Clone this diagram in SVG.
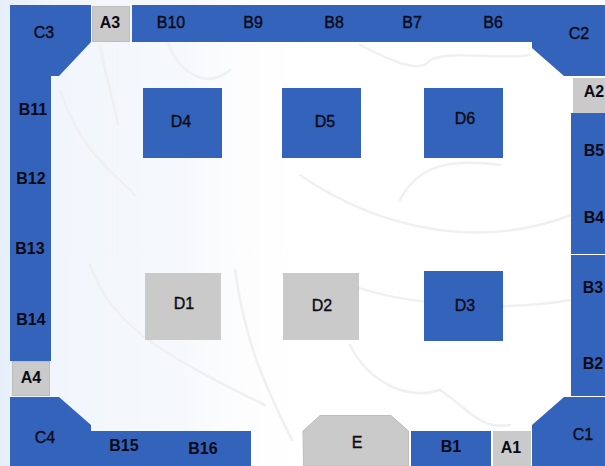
<svg xmlns="http://www.w3.org/2000/svg" width="605" height="466" viewBox="0 0 605 466">
<style>
.b{fill:#3463bc}
.g{fill:#cacaca}
.gb{fill:#cacaca;stroke:#bdbdbd;stroke-width:1}
.w{fill:none;stroke:#f0f0f0;stroke-width:2.500;stroke-linecap:round}
text{font-family:"Liberation Sans",Arial,sans-serif;font-size:16px;fill:#0a0a14;text-anchor:middle;stroke:#0a0a14;stroke-width:.35}
.s{font-weight:bold;stroke:none}
</style>
<defs><linearGradient id="bg" x1="0" x2="1" y1="0" y2="0"><stop offset="0" stop-color="#e6eff9"/><stop offset=".09" stop-color="#f1f6fc"/><stop offset=".3" stop-color="#f6f9fc"/><stop offset=".4" stop-color="#fdfdfe"/><stop offset=".5" stop-color="#ffffff"/></linearGradient></defs>
<rect width="605" height="466" fill="#fff"/>
<rect width="605" height="466" fill="url(#bg)"/>
<g id="watermark">
<path class="w" d="M60 90C80 150 110 170 135 195"/>
<path class="w" d="M100 45C105 75 115 105 118 125"/>
<path class="w" d="M168 42C172 60 200 95 230 70"/>
<path class="w" d="M90 265C110 320 150 350 265 405"/>
<path class="w" d="M235 270C245 340 262 380 292 440"/>
<path class="w" d="M300 175C380 230 480 250 571 215"/>
<path class="w" d="M340 280C380 300 480 315 571 300"/>
<path class="w" d="M350 345C370 385 410 400 440 390C470 410 480 430 510 425"/>
<path class="w" d="M360 45C390 60 420 75 430 60C450 50 500 60 530 55"/>
<path class="w" d="M400 200C420 160 460 160 500 165"/>
</g>
<g id="connectors"></g>
<g id="C3"><polygon class="b" points="10,5 91,5 91,42 59,76 51,76 51,84 10,84"/><text x="44" y="38">C3</text></g>
<g id="A3"><rect class="gb" x="92.500" y="6.500" width="37" height="35"/><text class="s" x="110" y="28">A3</text></g>
<g id="top-bar"><rect class="b" x="132" y="5" width="400" height="37"/></g>
<g id="B10"><text x="171" y="28">B10</text></g>
<g id="B9"><text x="253" y="28">B9</text></g>
<g id="B8"><text x="334" y="28">B8</text></g>
<g id="B7"><text x="412" y="28">B7</text></g>
<g id="B6"><text x="493" y="28">B6</text></g>
<g id="C2"><polygon class="b" points="530,5 605,5 605,76 564,76 532,48 532,42 530,42"/><text x="579" y="39">C2</text></g>
<g id="A2"><rect class="g" x="573" y="78" width="32" height="35"/><text class="s" x="594" y="97">A2</text></g>
<g id="left-bar"><rect class="b" x="10" y="76" width="41" height="285"/></g>
<g id="B11"><text class="s" x="33" y="115">B11</text></g>
<g id="B12"><text class="s" x="31" y="184">B12</text></g>
<g id="B13"><text class="s" x="30" y="254">B13</text></g>
<g id="B14"><text class="s" x="31" y="325">B14</text></g>
<g id="A4"><rect class="gb" x="12.500" y="361.500" width="37" height="34"/><text class="s" x="31" y="383">A4</text></g>
<g id="C4"><polygon class="b" points="10,397 59,397 91,425 91,431 251,431 251,466 10,466"/><text x="45" y="443">C4</text></g>
<g id="B15"><text class="s" x="124" y="451">B15</text></g>
<g id="B16"><text class="s" x="203" y="454">B16</text></g>
<g id="B5-B4"><rect class="b" x="571" y="113" width="34" height="141"/></g>
<g id="B5"><text class="s" x="594" y="156">B5</text></g>
<g id="B4"><text class="s" x="594" y="223">B4</text></g>
<g id="B3-B2"><rect class="b" x="571" y="255" width="34" height="141"/></g>
<g id="B3"><text class="s" x="593" y="293">B3</text></g>
<g id="B2"><text class="s" x="593" y="369">B2</text></g>
<g id="C1"><polygon class="b" points="532,466 532,425 564,397 605,397 605,466"/><text x="583" y="440">C1</text></g>
<g id="A1"><rect class="g" x="493" y="431" width="38" height="35"/><text class="s" x="511" y="453">A1</text></g>
<g id="B1"><rect class="b" x="411" y="431" width="80" height="35"/><text class="s" x="451" y="452">B1</text></g>
<g id="E"><polygon class="gb" points="303,431 320,415.500 391,415.500 408.500,431 408.500,466 303.500,466"/><text x="357" y="448">E</text></g>
<g id="D4"><rect class="b" x="143" y="88" width="79" height="70"/><text x="181" y="127">D4</text></g>
<g id="D5"><rect class="b" x="282" y="88" width="79" height="70"/><text x="325" y="127">D5</text></g>
<g id="D6"><rect class="b" x="424" y="88" width="79" height="70"/><text x="465" y="124">D6</text></g>
<g id="D1"><rect class="g" x="145" y="273" width="76" height="67"/><text x="184" y="309">D1</text></g>
<g id="D2"><rect class="g" x="283" y="273" width="76" height="67"/><text x="322" y="311">D2</text></g>
<g id="D3"><rect class="b" x="424" y="271" width="79" height="70"/><text x="465" y="311">D3</text></g>
</svg>
